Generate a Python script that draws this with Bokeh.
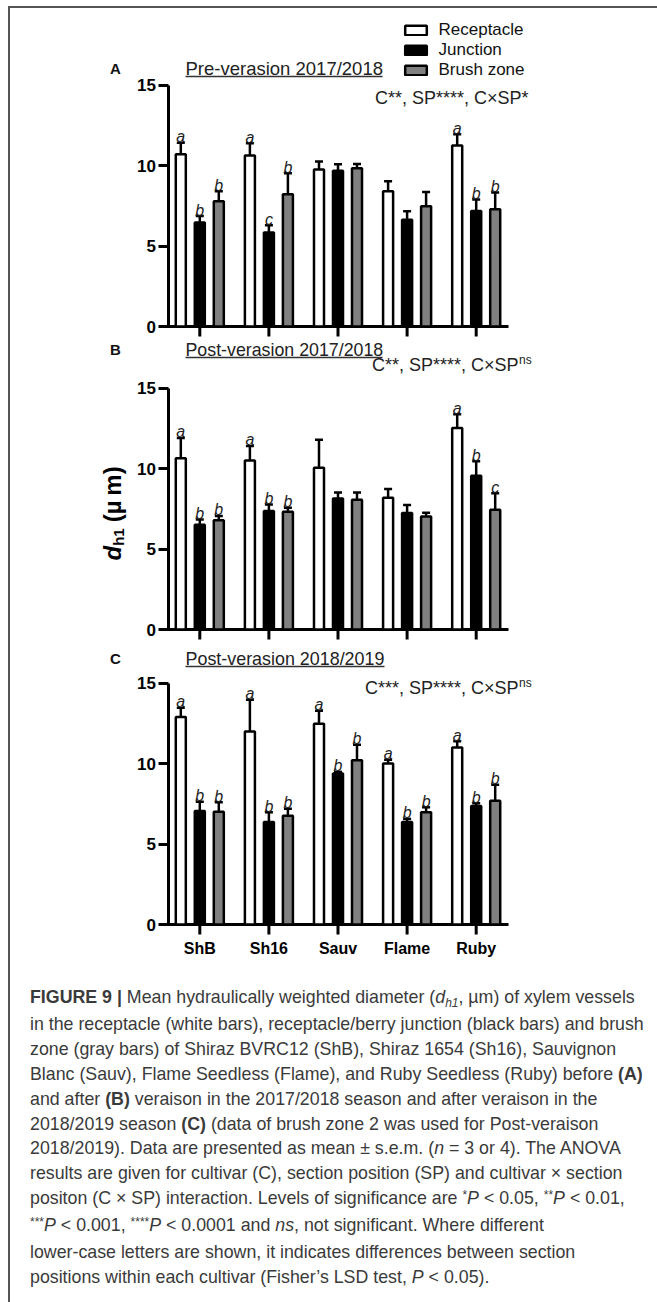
import numpy as np
from bokeh.plotting import figure
from bokeh.models import (Range1d, FixedTicker, ColumnDataSource, Whisker, TeeHead,
                          Legend, LegendItem, Div, LinearAxis)
from bokeh.layouts import column
from bokeh.core.properties import value
from bokeh.embed import file_html
from bokeh.resources import INLINE

FONT = "Liberation Sans"

# ---------------- data ----------------
cultivars = ["ShB", "Sh16", "Sauv", "Flame", "Ruby"]
series_names = ["Receptacle", "Junction", "Brush zone"]
series_fill = ["white", "black", "#808080"]

panel_letters = ["A", "B", "C"]
panel_titles = ["Pre-verasion 2017/2018", "Post-verasion 2017/2018", "Post-verasion 2018/2019"]
anova_main = ["C**, SP****, C×SP*", "C**, SP****, C×SP", "C***, SP****, C×SP"]
anova_sup = ["", "ns", "ns"]

# Panel A: Pre-verasion 2017/2018
a_rec = [10.70, 10.62, 9.75, 8.40, 11.24]
a_rec_sem = [0.72, 0.76, 0.50, 0.62, 0.70]
a_jun = [6.46, 5.84, 9.67, 6.63, 7.18]
a_jun_sem = [0.40, 0.45, 0.41, 0.53, 0.71]
a_bru = [7.78, 8.22, 9.83, 7.47, 7.29]
a_bru_sem = [0.62, 1.30, 0.27, 0.89, 1.03]
a_rec_let = ["a", "a", "", "", "a"]
a_jun_let = ["b", "c", "", "", "b"]
a_bru_let = ["b", "b", "", "", "b"]

# Panel B: Post-verasion 2017/2018
b_rec = [10.64, 10.50, 10.04, 8.18, 12.52]
b_rec_sem = [1.26, 0.90, 1.74, 0.54, 0.85]
b_jun = [6.51, 7.36, 8.14, 7.23, 9.55]
b_jun_sem = [0.33, 0.41, 0.37, 0.50, 0.90]
b_bru = [6.78, 7.31, 8.06, 7.02, 7.44]
b_bru_sem = [0.27, 0.25, 0.45, 0.23, 1.03]
b_rec_let = ["a", "a", "", "", "a"]
b_jun_let = ["b", "b", "", "", "b"]
b_bru_let = ["b", "b", "", "", "c"]

# Panel C: Post-verasion 2018/2019
c_rec = [12.89, 11.98, 12.47, 10.00, 10.99]
c_rec_sem = [0.58, 1.98, 0.80, 0.23, 0.39]
c_jun = [7.05, 6.37, 9.38, 6.37, 7.36]
c_jun_sem = [0.58, 0.60, 0.10, 0.19, 0.17]
c_bru = [7.01, 6.76, 10.20, 6.97, 7.69]
c_bru_sem = [0.58, 0.43, 0.97, 0.31, 0.99]
c_rec_let = ["a", "a", "a", "a", "a"]
c_jun_let = ["b", "b", "b", "b", "b"]
c_bru_let = ["b", "b", "b", "b", "b"]

y_ticks = [0, 5, 10, 15]

panels_data = [
    ([a_rec, a_jun, a_bru], [a_rec_sem, a_jun_sem, a_bru_sem], [a_rec_let, a_jun_let, a_bru_let]),
    ([b_rec, b_jun, b_bru], [b_rec_sem, b_jun_sem, b_bru_sem], [b_rec_let, b_jun_let, b_bru_let]),
    ([c_rec, c_jun, c_bru], [c_rec_sem, c_jun_sem, c_bru_sem], [c_rec_let, c_jun_let, c_bru_let]),
]

# ---------------- layout (page pixels) ----------------
PAGE_L = 10          # left of figures on page (after margin + border)
FIG_W = 639
CAT_PX = 69.1        # px between cultivar groups
CAT0 = 199.3         # page x of first cultivar
Y_PX = 16.1          # px per micrometre
FRAME_L, FRAME_R = 97, 645
AXIS_X0, AXIS_X1 = 159, 508
YAXIS_X = 167.5
BAR_OFF = 0.275      # offset of side bars (category units)
BAR_W = 0.145
TICK_LEN = 10

geo = [
    dict(top=8, bottom=340, frame_top=20, zero=326, title_y=68, anova_y=97, anova_r=528,
         title_size="18.5px", ul=(185, 382)),
    dict(top=340, bottom=643, frame_top=342, zero=629, title_y=349, anova_y=364, anova_r=518,
         title_size="17.8px", ul=(185, 382)),
    dict(top=643, bottom=965, frame_top=645, zero=924, title_y=658, anova_y=687, anova_r=518,
         title_size="17.9px", ul=(185, 384)),
]


def X(px):
    return (px - CAT0) / CAT_PX


def make_panel(k):
    g = geo[k]
    Z = g["zero"]

    def Y(py):
        return (Z - py) / Y_PX

    p = figure(width=FIG_W, height=g["bottom"] - g["top"],
               x_range=Range1d(X(FRAME_L), X(FRAME_R)),
               y_range=Range1d(Y(g["bottom"]), Y(g["frame_top"])),
               output_backend="svg", toolbar_location=None,
               x_axis_location=None, y_axis_location=None,
               min_border_left=FRAME_L - PAGE_L, min_border_right=PAGE_L + FIG_W - FRAME_R,
               min_border_top=g["frame_top"] - g["top"], min_border_bottom=0)
    p.outline_line_color = None
    p.background_fill_color = "white"
    p.border_fill_color = "white"
    for gr in p.grid:
        gr.visible = False

    idx = np.arange(len(cultivars))

    # y axis (drawn at its own location inside the frame)
    yax = LinearAxis(fixed_location=X(YAXIS_X), bounds=(0, 15),
                     ticker=FixedTicker(ticks=y_ticks))
    yax.axis_line_width = 3
    yax.major_tick_line_width = 3
    yax.major_tick_out = TICK_LEN
    yax.major_tick_in = 0
    yax.minor_tick_out = 0
    yax.minor_tick_in = 0
    yax.major_label_standoff = 2
    yax.major_label_text_font = FONT
    yax.major_label_text_font_size = "17px"
    yax.major_label_text_font_style = "bold"
    yax.major_label_text_color = "black"
    p.add_layout(yax, "left")

    # x axis line and category ticks
    p.segment(x0=[X(AXIS_X0)], x1=[X(AXIS_X1)], y0=[0], y1=[0],
              line_color="black", line_width=3)
    p.segment(x0=idx, x1=idx, y0=np.zeros(len(idx)), y1=np.full(len(idx), -TICK_LEN / Y_PX),
              line_color="black", line_width=3)
    if k == 2:
        p.text(x=idx, y=np.full(len(idx), Y(Z + 24)), text=cultivars,
               text_align="center", text_baseline="middle", text_font=value(FONT),
               text_font_style="bold", text_font_size="16px", text_color="black")

    means, sems, lets = panels_data[k]
    renderers = []
    for s in range(3):
        m = np.array(means[s])
        e = np.array(sems[s])
        src = ColumnDataSource(dict(
            x=idx + (s - 1) * BAR_OFF, top=m,
            upper=m + e, lower=m - e, let=lets[s]))
        r = p.vbar(x="x", top="top", bottom=0, width=BAR_W, source=src,
                   fill_color=series_fill[s], line_color="black", line_width=2.5)
        renderers.append(r)
        w = Whisker(source=src, base="x", upper="upper", lower="lower",
                    dimension="height", line_width=2.5, line_color="black",
                    upper_head=TeeHead(size=8, line_width=2.5, line_color="black"),
                    lower_head=TeeHead(size=8, line_width=2.5, line_color="black"))
        p.add_layout(w)
        p.text(x="x", y="upper", text="let", source=src, text_align="center",
               text_baseline="alphabetic", y_offset=-6,
               text_font=value(FONT), text_font_style="italic",
               text_font_size="16px", text_color="#222222")

    # panel letter and title
    p.text(x=[X(115)], y=[Y(g["title_y"])], text=[panel_letters[k]],
           text_align="center", text_baseline="middle", text_font=value(FONT),
           text_font_style="bold", text_font_size="15px", text_color="#111111")
    p.text(x=[X(185)], y=[Y(g["title_y"])], text=[panel_titles[k]],
           text_align="left", text_baseline="middle", text_font=value(FONT),
           text_font_size=g["title_size"], text_color="#222222")
    u0, u1 = g["ul"]
    p.segment(x0=[X(u0)], x1=[X(u1)], y0=[Y(g["title_y"] + 8)], y1=[Y(g["title_y"] + 8)],
              line_color="#333333", line_width=1.4)

    # ANOVA annotation
    p.text(x=[X(g["anova_r"])], y=[Y(g["anova_y"])], text=[anova_main[k]],
           text_align="right", text_baseline="middle", text_font=value(FONT),
           text_font_size="18px", text_color="#222222")
    if anova_sup[k]:
        p.text(x=[X(g["anova_r"] + 0.5)], y=[Y(g["anova_y"] - 5)], text=[anova_sup[k]],
               text_align="left", text_baseline="middle", text_font=value(FONT),
               text_font_size="12px", text_color="#222222")

    if k == 0:
        legend = Legend(items=[LegendItem(label=n, renderers=[r])
                               for n, r in zip(series_names, renderers)],
                        location=(401.5 - FRAME_L, g["bottom"] - 79.5),
                        orientation="vertical", glyph_width=27, glyph_height=12,
                        label_height=19, spacing=0, padding=0, margin=0,
                        label_standoff=10, border_line_color=None,
                        background_fill_alpha=0)
        legend.label_text_font = FONT
        legend.label_text_font_size = "17px"
        legend.label_text_color = "#111111"
        legend.label_text_baseline = "middle"
        p.add_layout(legend)

    if k == 1:
        # y axis title: d_h1 (µm), rotated
        yb = 560
        p.text(x=[X(112)], y=[Y(yb)], text=["d"], angle=np.pi / 2,
               text_align="left", text_baseline="middle", text_font=value(FONT),
               text_font_style="bold italic", text_font_size="24px", text_color="black")
        p.text(x=[X(118)], y=[Y(yb - 14.7)], text=["h1"], angle=np.pi / 2,
               text_align="left", text_baseline="middle", text_font=value(FONT),
               text_font_style="bold", text_font_size="15px", text_color="black")
        p.text(x=[X(112)], y=[Y(yb - 14.7 - 17.5 - 6)], text=["(µ\u2009m)"], angle=np.pi / 2,
               text_align="left", text_baseline="middle", text_font=value(FONT),
               text_font_style="bold", text_font_size="24px", text_color="black")
    return p


figs = [make_panel(k) for k in range(3)]

sub = '<span style="position:relative; top:4px; font-size:12px">'
sup = '<span style="position:relative; top:-5px; font-size:12px">'
caption_lines = [
    '<b>FIGURE 9 |</b> Mean hydraulically weighted diameter (<i>d</i>' + sub + '<i>h1</i></span>, µm) of xylem vessels',
    'in the receptacle (white bars), receptacle/berry junction (black bars) and brush',
    'zone (gray bars) of Shiraz BVRC12 (ShB), Shiraz 1654 (Sh16), Sauvignon',
    'Blanc (Sauv), Flame Seedless (Flame), and Ruby Seedless (Ruby) before <b>(A)</b>',
    'and after <b>(B)</b> veraison in the 2017/2018 season and after veraison in the',
    '2018/2019 season <b>(C)</b> (data of brush zone 2 was used for Post-veraison',
    '2018/2019). Data are presented as mean ± s.e.m. (<i>n</i> = 3 or 4). The ANOVA',
    'results are given for cultivar (C), section position (SP) and cultivar × section',
    'positon (C × SP) interaction. Levels of significance are ' + sup + '*</span><i>P</i> &lt; 0.05, ' + sup + '**</span><i>P</i> &lt; 0.01,',
    sup + '***</span><i>P</i> &lt; 0.001, ' + sup + '****</span><i>P</i> &lt; 0.0001 and <i>ns</i>, not significant. Where different',
    'lower-case letters are shown, it indicates differences between section',
    'positions within each cultivar (Fisher’s LSD test, <i>P</i> &lt; 0.05).',
]
caption_html = ('<div style="padding:15px 0 0 15px; font-family:\'Liberation Sans\', Arial, sans-serif; '
                'font-size:17.8px; line-height:24.9px; color:#3a3a3a; white-space:nowrap;">'
                + '<br>'.join(caption_lines) + '</div>')
caption = Div(text=caption_html, width=FIG_W, height=330)

page = column(*figs, caption, spacing=0,
              styles={"margin-left": "8px", "margin-top": "6px",
                      "border-left": "2px solid #555555", "border-top": "2px solid #555555"})

open("out.html", "w").write(file_html(page, INLINE))
